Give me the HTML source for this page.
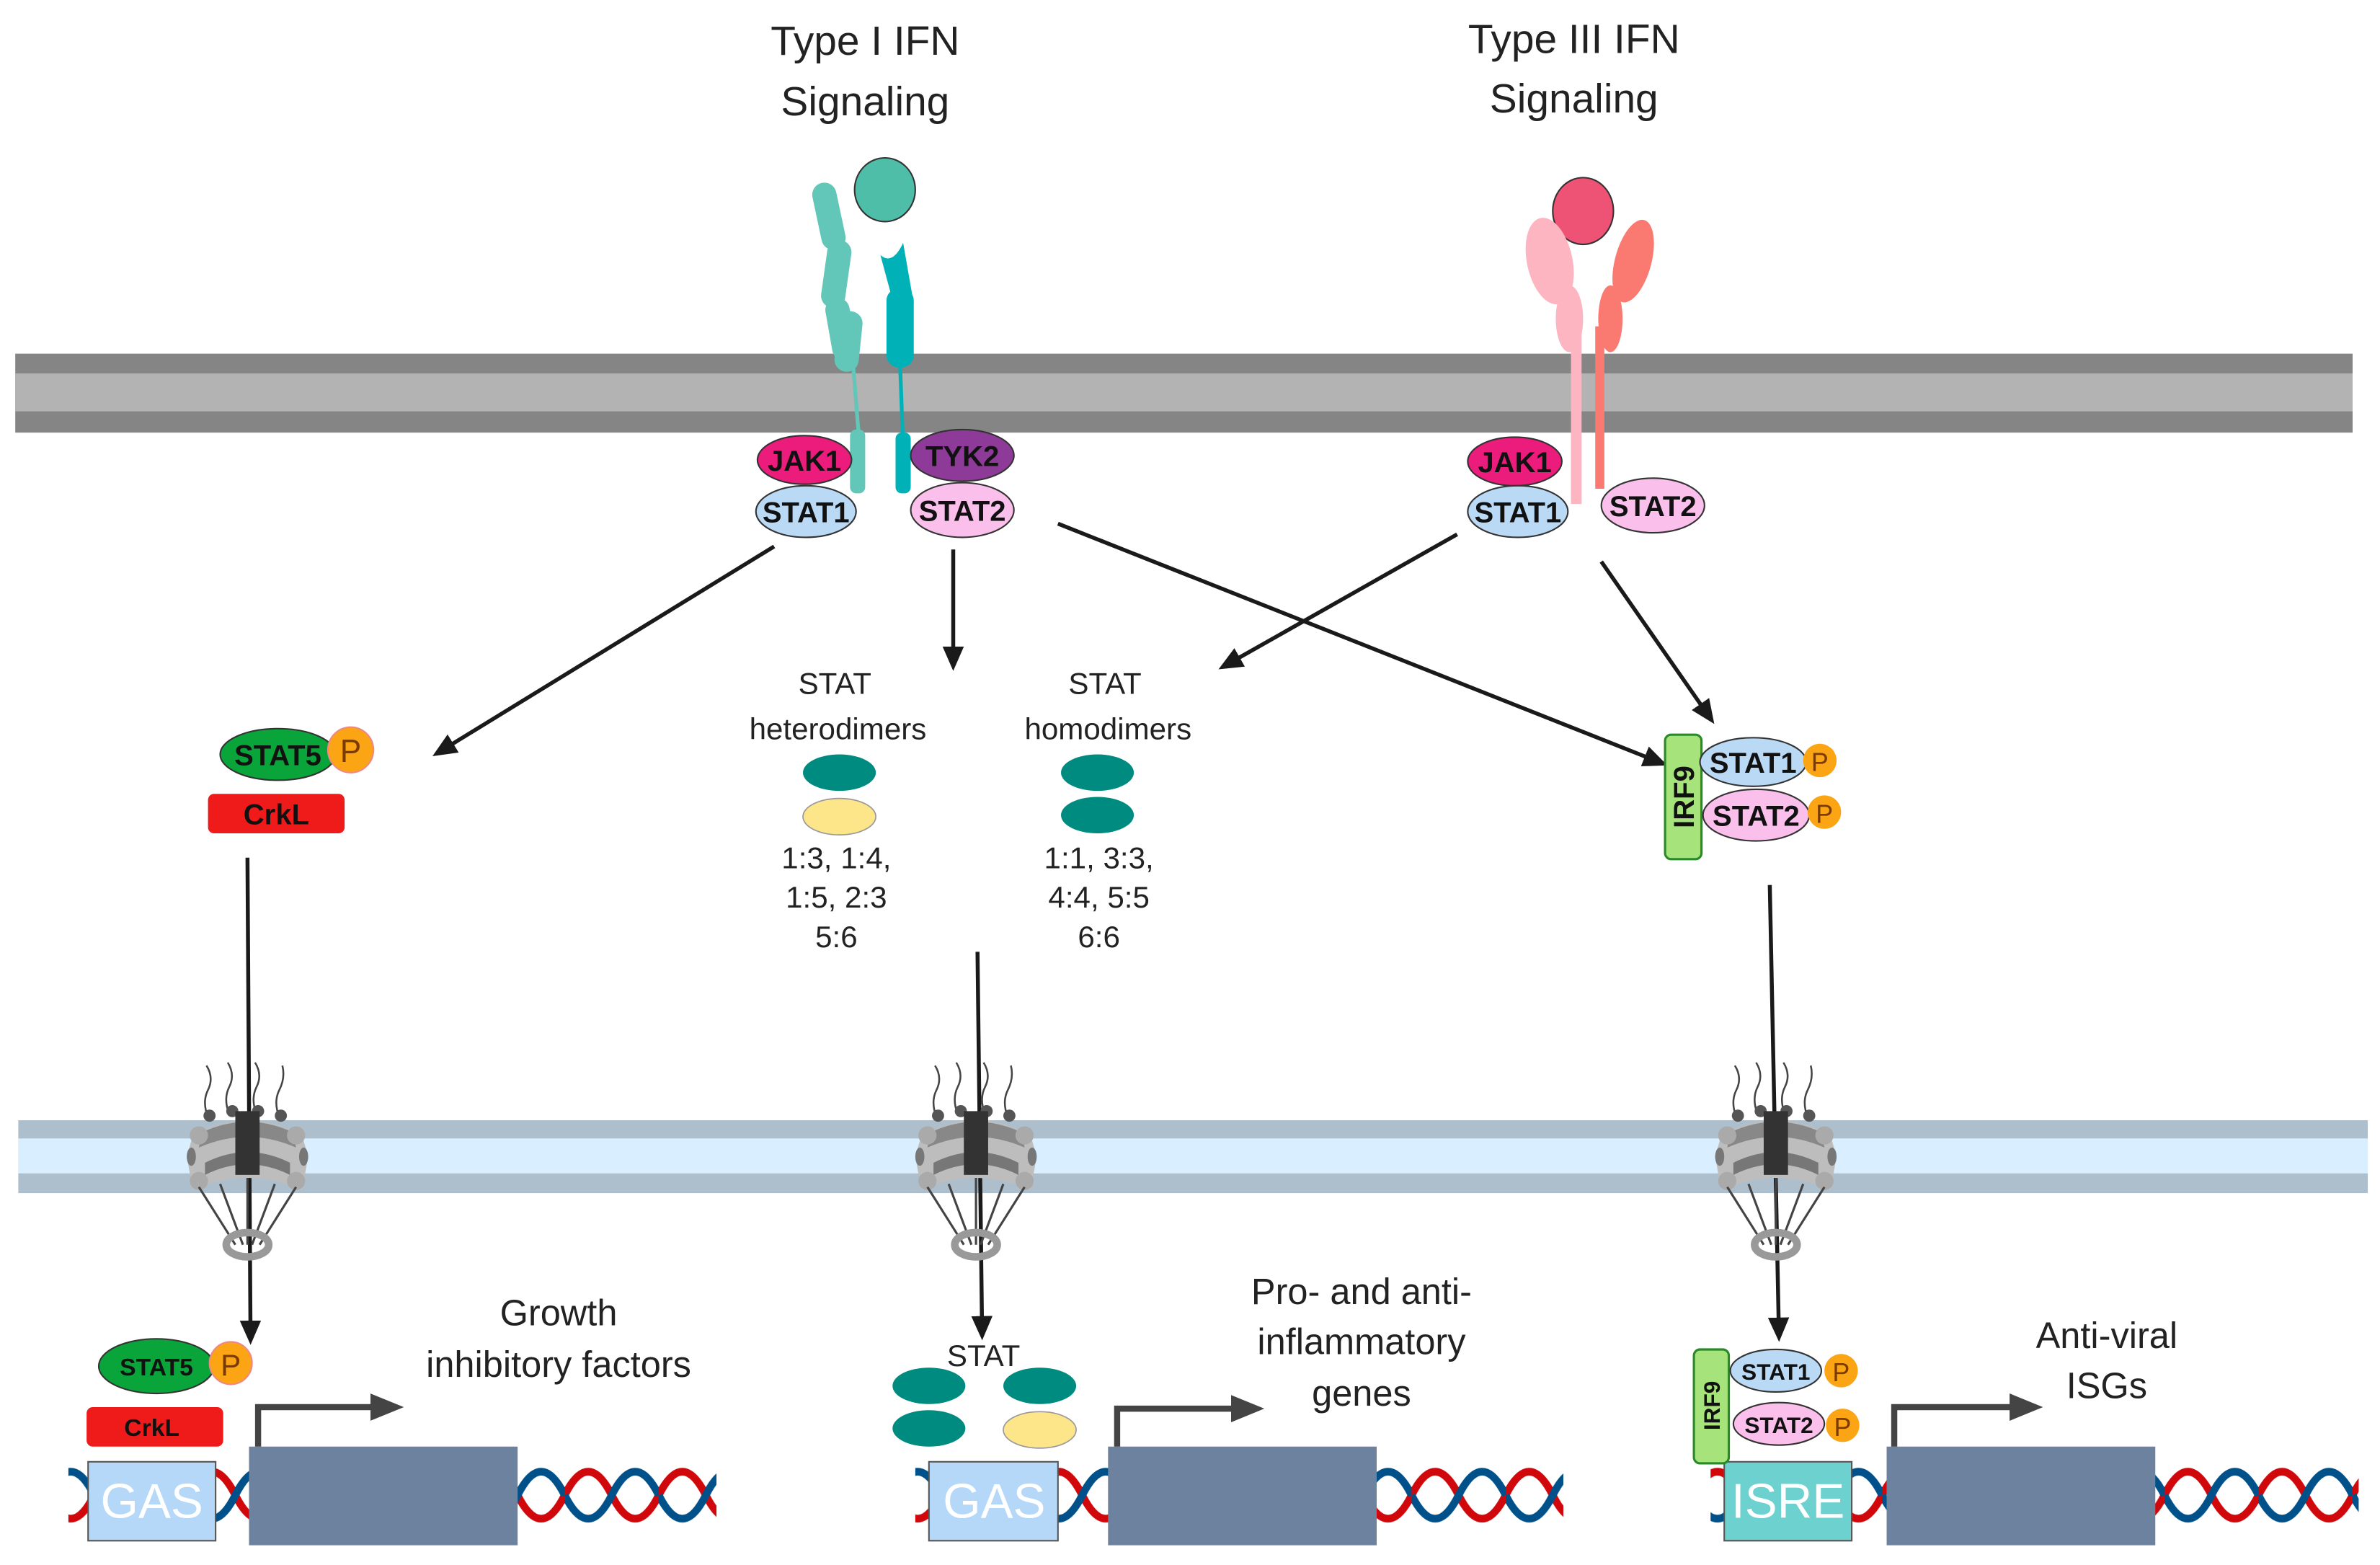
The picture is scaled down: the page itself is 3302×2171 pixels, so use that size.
<!DOCTYPE html>
<html><head><meta charset="utf-8"><style>
html,body{margin:0;padding:0;background:#fff;}
svg{display:block;}
text{font-family:"Liberation Sans",sans-serif;}
.b{font-weight:bold;font-size:19px;text-anchor:middle;fill:#111;}
.l{font-size:20px;text-anchor:middle;fill:#222;}
.t{font-size:27px;text-anchor:middle;fill:#222;}
.g{font-size:24px;text-anchor:middle;fill:#222;}
</style></head><body>
<svg width="3302" height="2171" viewBox="0 0 1568 1031" xmlns="http://www.w3.org/2000/svg">
<defs>
<marker id="ah2" markerWidth="16" markerHeight="16" refX="10" refY="8" orient="auto" markerUnits="userSpaceOnUse" viewBox="0 0 16 16">
<path d="M0,1 L16,8 L0,15 z" fill="#1a1a1a"/></marker>
<marker id="ag" markerWidth="22" markerHeight="18" refX="6" refY="9" orient="auto" markerUnits="userSpaceOnUse">
<path d="M0,0 L22,9 L0,18 z" fill="#444"/></marker>
<pattern id="dna" width="62" height="50" patternUnits="userSpaceOnUse" x="0" y="960">
<path d="M0,25 Q15.5,-6 31,25 T62,25" fill="none" stroke="#d0080c" stroke-width="5"/>
<path d="M0,25 Q15.5,56 31,25 T62,25" fill="none" stroke="#00508a" stroke-width="5"/>
</pattern>
<g id="pore">
<path d="M-12,-28 q-4,-10 0,-18 q4,-8 -1,-16" fill="none" stroke="#444" stroke-width="1.2"/>
<path d="M-26,-26 q-4,-10 0,-18 q4,-8 -1,-16" fill="none" stroke="#444" stroke-width="1.2"/>
<path d="M6,-28 q-4,-10 0,-18 q4,-8 -1,-16" fill="none" stroke="#444" stroke-width="1.2"/>
<path d="M21,-26 q-4,-10 0,-18 q4,-8 2,-16" fill="none" stroke="#444" stroke-width="1.2"/>
<path d="M-36,-14 Q0,-34 36,-14 L40,0 L36,22 Q0,6 -36,22 L-40,0 z" fill="#bdbdbd"/>
<path d="M-30,-16 Q0,-30 30,-16 L32,-6 Q0,-20 -32,-6 z" fill="#888"/>
<path d="M-28,4 Q0,-10 28,4 L28,12 Q0,-2 -28,12 z" fill="#777"/>
<circle cx="-25" cy="-27" r="4" fill="#555"/><circle cx="-10" cy="-30" r="4" fill="#555"/>
<circle cx="7" cy="-30" r="4" fill="#555"/><circle cx="22" cy="-27" r="4" fill="#555"/>
<circle cx="-32" cy="-14" r="6" fill="#aaa"/><circle cx="32" cy="-14" r="6" fill="#aaa"/>
<circle cx="-32" cy="16" r="6" fill="#aaa"/><circle cx="32" cy="16" r="6" fill="#aaa"/>
<ellipse cx="-37" cy="0" rx="3" ry="6" fill="#777"/><ellipse cx="37" cy="0" rx="3" ry="6" fill="#777"/>
<rect x="-8" y="-30" width="16" height="42" fill="#333"/>
<path d="M-32,20 L-8,58 M-18,18 L-3,58 M0,14 L0,58 M18,18 L3,58 M32,20 L8,58" stroke="#444" stroke-width="1.5" fill="none"/>
<ellipse cx="0" cy="58" rx="14" ry="8" fill="none" stroke="#999" stroke-width="5"/>
</g>
</defs>

<text class="t" x="570" y="36">Type I IFN</text>
<text class="t" x="570" y="76">Signaling</text>
<text class="t" x="1037" y="35">Type III IFN</text>
<text class="t" x="1037" y="74">Signaling</text>

<rect x="10" y="233" width="1540" height="52" fill="#858585"/>
<rect x="10" y="246" width="1540" height="25" fill="#b3b3b3"/>

<rect x="12" y="738" width="1548" height="48" fill="#adbfcc"/>
<rect x="12" y="750" width="1548" height="23" fill="#d9efff"/>

<ellipse cx="583" cy="125" rx="20" ry="21" fill="#4fbea9" stroke="#333" stroke-width="1"/>
<g fill="#62c6b8">
<rect x="538" y="120" width="16" height="45" rx="8" transform="rotate(-12 546 142)"/>
<rect x="543" y="158" width="16" height="45" rx="8" transform="rotate(8 551 180)"/>
<rect x="546" y="196" width="16" height="42" rx="8" transform="rotate(-10 554 217)"/>
<rect x="551" y="205" width="16" height="40" rx="8" transform="rotate(6 559 225)"/>
<rect x="560" y="283" width="10" height="42" rx="4"/>
</g>
<path d="M562,240 L566,290" stroke="#62c6b8" stroke-width="2.5"/>
<path d="M580,168 Q588,175 595,160 L602,200 L590,205 z" fill="#00b2b8"/>
<rect x="584" y="190" width="18" height="52" rx="8" fill="#00b2b8"/>
<path d="M593,240 L595,295" stroke="#00b2b8" stroke-width="2.5"/>
<rect x="590" y="285" width="10" height="40" rx="4" fill="#00b2b8"/>

<ellipse cx="530" cy="303" rx="31" ry="16" fill="#ec1c7c" stroke="#333"/>
<text class="b" x="530" y="310">JAK1</text>
<ellipse cx="531" cy="337" rx="33" ry="17" fill="#b9d9f5" stroke="#333"/>
<text class="b" x="531" y="344">STAT1</text>
<ellipse cx="634" cy="300" rx="34" ry="17" fill="#8e3a98" stroke="#333"/>
<text class="b" x="634" y="307">TYK2</text>
<ellipse cx="634" cy="336" rx="34" ry="18" fill="#fbbfeb" stroke="#333"/>
<text class="b" x="634" y="343">STAT2</text>

<ellipse cx="1043" cy="139" rx="20" ry="22" fill="#ee5376" stroke="#333"/>
<ellipse cx="1021" cy="172" rx="15" ry="29" fill="#fdb5c1" transform="rotate(-12 1021 172)"/>
<ellipse cx="1034" cy="210" rx="9" ry="22" fill="#fdb5c1"/>
<rect x="1035" y="215" width="7" height="117" fill="#fdb5c1"/>
<ellipse cx="1076" cy="172" rx="12" ry="28" fill="#fa7a72" transform="rotate(15 1076 172)"/>
<ellipse cx="1061" cy="210" rx="8" ry="22" fill="#fa7a72"/>
<rect x="1051" y="215" width="6" height="107" fill="#fa7a72"/>

<ellipse cx="998" cy="304" rx="31" ry="16" fill="#ec1c7c" stroke="#333"/>
<text class="b" x="998" y="311">JAK1</text>
<ellipse cx="1000" cy="337" rx="33" ry="17" fill="#b9d9f5" stroke="#333"/>
<text class="b" x="1000" y="344">STAT1</text>
<ellipse cx="1089" cy="333" rx="34" ry="18" fill="#fbbfeb" stroke="#333"/>
<text class="b" x="1089" y="340">STAT2</text>

<g stroke="#1a1a1a" stroke-width="2.6" fill="none" marker-end="url(#ah2)">
<line x1="510" y1="360" x2="290" y2="495"/>
<line x1="628" y1="362" x2="628" y2="436"/>
<line x1="697" y1="345" x2="1093" y2="502"/>
<line x1="960" y1="352" x2="808" y2="438"/>
<line x1="1055" y1="370" x2="1126" y2="472"/>
<line x1="163" y1="565" x2="165" y2="880"/>
<line x1="644" y1="627" x2="647" y2="877"/>
<line x1="1166" y1="583" x2="1172" y2="878"/>
</g>

<text class="l" x="550" y="457">STAT</text>
<text class="l" x="552" y="487">heterodimers</text>
<text class="l" x="728" y="457">STAT</text>
<text class="l" x="730" y="487">homodimers</text>
<ellipse cx="553" cy="509" rx="24" ry="12" fill="#008b80"/>
<ellipse cx="553" cy="538" rx="24" ry="12" fill="#fde58a" stroke="#999" stroke-width="0.8"/>
<ellipse cx="723" cy="509" rx="24" ry="12" fill="#008b80"/>
<ellipse cx="723" cy="537" rx="24" ry="12" fill="#008b80"/>
<text class="l" x="551" y="572">1:3, 1:4,</text>
<text class="l" x="551" y="598">1:5, 2:3</text>
<text class="l" x="551" y="624">5:6</text>
<text class="l" x="724" y="572">1:1, 3:3,</text>
<text class="l" x="724" y="598">4:4, 5:5</text>
<text class="l" x="724" y="624">6:6</text>

<ellipse cx="183" cy="497" rx="38" ry="17" fill="#0aa53a" stroke="#333"/>
<text class="b" x="183" y="504">STAT5</text>
<circle cx="231" cy="494" r="15" fill="#fba414" stroke="#e88"/>
<text x="231" y="502" font-size="21" text-anchor="middle" fill="#7a3a00">P</text>
<rect x="137" y="523" width="90" height="26" rx="4" fill="#ef1b1b"/>
<text class="b" x="182" y="543">CrkL</text>

<rect x="1097" y="484" width="24" height="82" rx="4" fill="#a6e37a" stroke="#2a8a2a" stroke-width="1.5"/>
<text class="b" x="0" y="0" transform="translate(1116 525) rotate(-90)">IRF9</text>
<ellipse cx="1155" cy="502" rx="35" ry="16" fill="#b9d9f5" stroke="#333"/>
<text class="b" x="1155" y="509">STAT1</text>
<circle cx="1199" cy="501" r="11" fill="#fba414"/>
<text x="1199" y="508" font-size="17" text-anchor="middle" fill="#7a3a00">P</text>
<ellipse cx="1157" cy="537" rx="35" ry="17" fill="#fbbfeb" stroke="#333"/>
<text class="b" x="1157" y="544">STAT2</text>
<circle cx="1202" cy="535" r="11" fill="#fba414"/>
<text x="1202" y="542" font-size="17" text-anchor="middle" fill="#7a3a00">P</text>

<use href="#pore" x="163" y="762"/>
<use href="#pore" x="643" y="762"/>
<use href="#pore" x="1170" y="762"/>

<rect x="45" y="960" width="427" height="50" fill="url(#dna)"/>
<rect x="603" y="960" width="427" height="50" fill="url(#dna)"/>
<rect x="1127" y="960" width="427" height="50" fill="url(#dna)"/>

<rect x="58" y="963" width="84" height="52" fill="#b5d8f8" stroke="#555"/>
<text x="100" y="1000" font-size="32" text-anchor="middle" fill="#fff">GAS</text>
<rect x="164" y="953" width="177" height="65" fill="#6d829e"/>
<path d="M170,953 L170,927 L250,927" stroke="#444" stroke-width="4" fill="none" marker-end="url(#ag)"/>
<ellipse cx="103" cy="900" rx="38" ry="18" fill="#0aa53a" stroke="#333"/>
<text x="103" y="906" font-size="16" font-weight="bold" text-anchor="middle" fill="#111">STAT5</text>
<circle cx="152" cy="898" r="14" fill="#fba414" stroke="#e88"/>
<text x="152" y="906" font-size="20" text-anchor="middle" fill="#7a3a00">P</text>
<rect x="57" y="927" width="90" height="26" rx="4" fill="#ef1b1b"/>
<text x="100" y="946" font-size="16" font-weight="bold" text-anchor="middle" fill="#111">CrkL</text>
<text class="g" x="368" y="873">Growth</text>
<text class="g" x="368" y="907">inhibitory factors</text>

<rect x="612" y="963" width="85" height="52" fill="#b5d8f8" stroke="#555"/>
<text x="655" y="1000" font-size="32" text-anchor="middle" fill="#fff">GAS</text>
<rect x="730" y="953" width="177" height="65" fill="#6d829e"/>
<path d="M736,953 L736,928 L817,928" stroke="#444" stroke-width="4" fill="none" marker-end="url(#ag)"/>
<text class="l" x="648" y="900">STAT</text>
<ellipse cx="612" cy="913" rx="24" ry="12" fill="#008b80"/>
<ellipse cx="612" cy="941" rx="24" ry="12" fill="#008b80"/>
<ellipse cx="685" cy="913" rx="24" ry="12" fill="#008b80"/>
<ellipse cx="685" cy="942" rx="24" ry="12" fill="#fde58a" stroke="#999" stroke-width="0.8"/>
<text class="g" x="897" y="859">Pro- and anti-</text>
<text class="g" x="897" y="892">inflammatory</text>
<text class="g" x="897" y="926">genes</text>

<rect x="1136" y="963" width="84" height="52" fill="#6cd1cf" stroke="#555"/>
<text x="1178" y="1000" font-size="32" text-anchor="middle" fill="#fff">ISRE</text>
<rect x="1243" y="953" width="177" height="65" fill="#6d829e"/>
<path d="M1248,953 L1248,927 L1330,927" stroke="#444" stroke-width="4" fill="none" marker-end="url(#ag)"/>
<rect x="1116" y="889" width="23" height="75" rx="4" fill="#a6e37a" stroke="#2a8a2a" stroke-width="1.5"/>
<text x="0" y="0" font-size="15" font-weight="bold" text-anchor="middle" fill="#111" transform="translate(1133 926) rotate(-90)">IRF9</text>
<ellipse cx="1170" cy="903" rx="30" ry="14" fill="#b9d9f5" stroke="#333"/>
<text x="1170" y="909" font-size="15" font-weight="bold" text-anchor="middle" fill="#111">STAT1</text>
<circle cx="1213" cy="903" r="11" fill="#fba414"/>
<text x="1213" y="910" font-size="17" text-anchor="middle" fill="#7a3a00">P</text>
<ellipse cx="1172" cy="938" rx="30" ry="14" fill="#fbbfeb" stroke="#333"/>
<text x="1172" y="944" font-size="15" font-weight="bold" text-anchor="middle" fill="#111">STAT2</text>
<circle cx="1214" cy="939" r="11" fill="#fba414"/>
<text x="1214" y="946" font-size="17" text-anchor="middle" fill="#7a3a00">P</text>
<text class="g" x="1388" y="888">Anti-viral</text>
<text class="g" x="1388" y="921">ISGs</text>
</svg>
</body></html>
